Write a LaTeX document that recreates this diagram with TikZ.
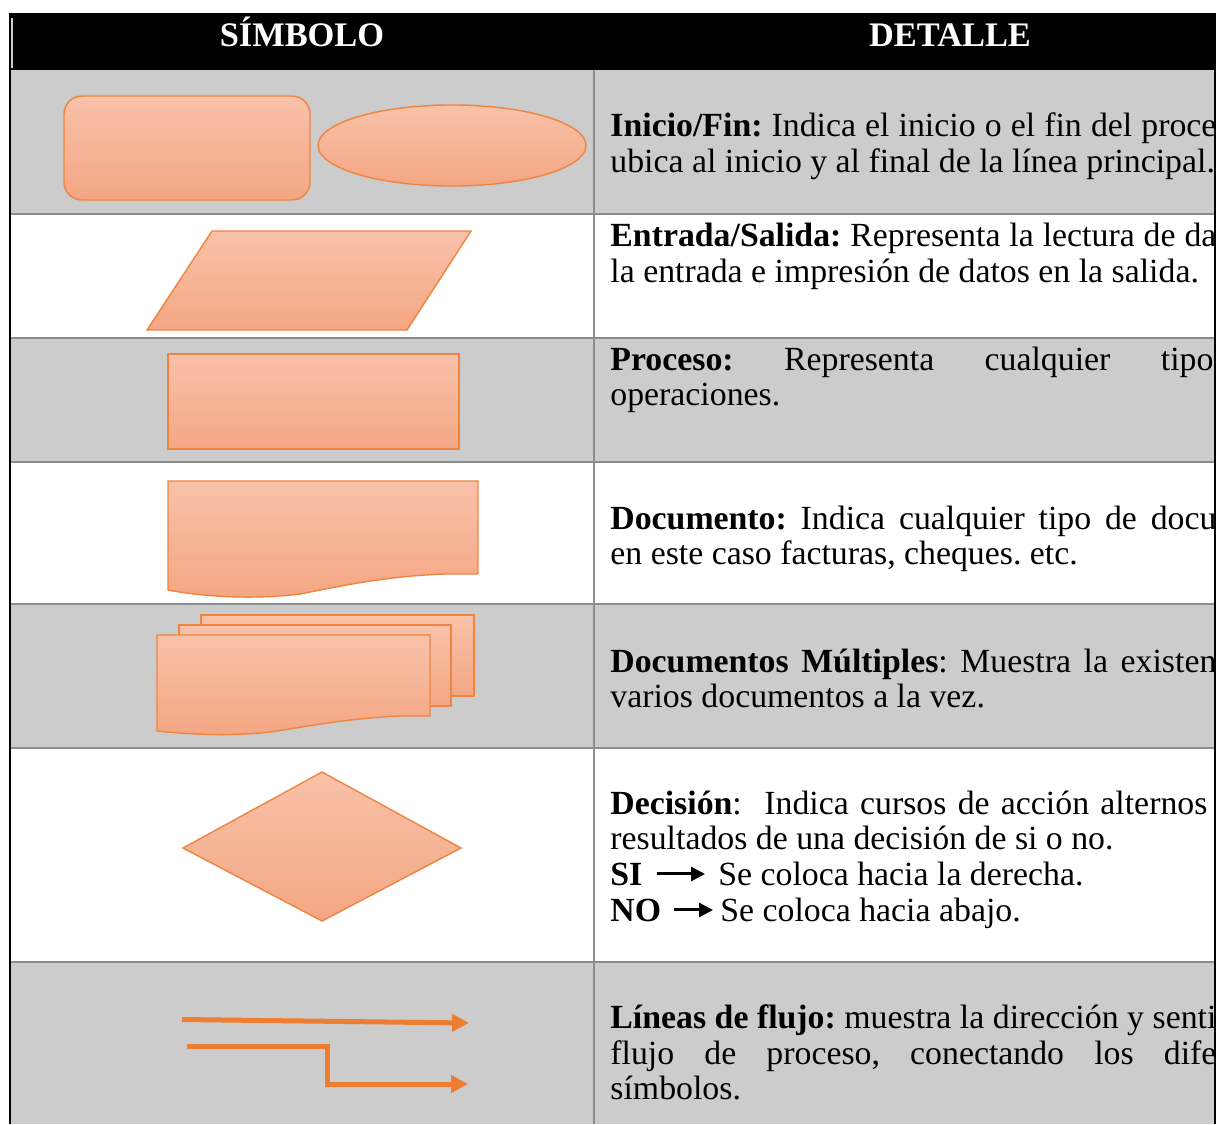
\documentclass[tikz,border=0pt]{standalone}
\usepackage{fontspec}
\setmainfont{Liberation Serif}
\usetikzlibrary{arrows.meta}

\definecolor{rowgray}{HTML}{CCCCCC}
\definecolor{rulegray}{HTML}{8C8C8C}
\definecolor{symtop}{HTML}{F8C2A9}
\definecolor{symbot}{HTML}{F4A683}
\definecolor{symline}{HTML}{EE8440}
\definecolor{flowline}{HTML}{ED7D31}

\tikzset{
    sym/.style={draw=symline, line width=0.7pt, top color=symtop, bottom color=symbot},
    detail/.style={anchor=base west, inner sep=0pt, font=\fontsize{16.9}{18}\selectfont\frenchspacing},
    head/.style={anchor=base, inner sep=0pt, text=white, font=\fontsize{17.2}{18}\selectfont\bfseries},
    flow/.style={draw=flowline, line width=2.5pt, -{Triangle[length=8.5pt,width=8.5pt]}},
    textarrow/.style={line width=1.5pt, -{Triangle[length=7pt,width=7pt]}}
}

\begin{document}
\begin{tikzpicture}[x=0.5pt,y=-0.5pt]
    \useasboundingbox (0,0) rectangle (1218,1124);

    % rows
    \fill[black] (10,13) rectangle (1215,70);
    \fill[rowgray] (10,70) rectangle (1215,214);
    \fill[rowgray] (10,338) rectangle (1215,462);
    \fill[rowgray] (10,604) rectangle (1215,748);
    \fill[rowgray] (10,962) rectangle (1215,1124);
    \foreach \y in {214,338,462,604,748,962}
        \draw[rulegray, line width=0.8pt] (10,\y) -- (1215,\y);
    \draw[rulegray, line width=0.8pt] (594,70) -- (594,1124);
    \draw[black, line width=1pt] (10,13) -- (10,1124);
    \draw[black, line width=1pt] (1215,13) -- (1215,1124);
    \draw[white!80!black, line width=0.6pt] (12,18) -- (12,68);

    % header
    \node[head] (simbolo) at (302,46) {SÍMBOLO};
    \node[head] (detalle) at (950,46) {DETALLE};

    % Inicio/Fin
    \draw[sym, rounded corners=9pt] (64,96) rectangle (310,200);
    \draw[sym] (452,145.5) ellipse [x radius=134, y radius=40.5];

    % Entrada/Salida
    \draw[sym] (212,231) -- (471,231) -- (407,330) -- (147,330) -- cycle;

    % Proceso
    \draw[sym] (168,354) rectangle (459,449);

    % Documento
    \draw[sym] (168,481) -- (478,481) -- (478,574) -- (445,574)
        .. controls (390,576) and (350,584) .. (300,594)
        .. controls (260,599) and (210,598) .. (168,590) -- cycle;

    % Documentos multiples
    \draw[sym] (201,615) rectangle (474,696);
    \draw[sym] (179,625) rectangle (451,706);
    \draw[sym] (157,635) -- (430,635) -- (430,716) -- (400,716)
        .. controls (350,718) and (310,726) .. (270,732)
        .. controls (235,736) and (195,735) .. (157,731) -- cycle;

    % Decision
    \draw[sym] (322,772) -- (461,848) -- (322,921) -- (183,848) -- cycle;

    % Lineas de flujo
    \coordinate (f1a) at (182,1019.5);
    \coordinate (f1b) at (469,1023);
    \coordinate (f2a) at (187,1046);
    \coordinate (f2m) at (327,1046);
    \coordinate (f2b) at (468,1084);
    \draw[flow] (f1a) -- (f1b);
    \draw[flow] (f2a) -- (f2m) |- (f2b);

    % detail texts
    \begin{scope}
        \clip (594,70) rectangle (1214,1124);
        \node[detail] (t1a) at (610,136) {\makebox[303pt][s]{\textbf{Inicio/Fin:} Indica el inicio o el fin del proce}};
        \node[detail] (t1b) at (610,172) {ubica al inicio y al final de la línea principal.};
        \node[detail] (t2a) at (610,246) {\makebox[303pt][s]{\textbf{Entrada/Salida:} Representa la lectura de da}};
        \node[detail] (t2b) at (610,282) {la entrada e impresión de datos en la salida.};
        \node[detail] (t3a) at (610,370) {\makebox[301.5pt]{\textbf{Proceso:}\hfill Representa\hfill cualquier\hfill tipo}};
        \node[detail] (t3b) at (610,405) {operaciones.};
        \node[detail] (t4a) at (610,529) {\makebox[303pt][s]{\textbf{Documento:} Indica cualquier tipo de docu}};
        \node[detail] (t4b) at (610,564) {en este caso facturas, cheques. etc.};
        \node[detail] (t5a) at (610,672) {\makebox[303pt][s]{\textbf{Documentos Múltiples}: Muestra la existen}};
        \node[detail] (t5b) at (610,707) {varios documentos a la vez.};
        \node[detail] (t6a) at (610,814) {\makebox[298.5pt][s]{\textbf{Decisión}:\ \ Indica cursos de acción alternos}};
        \node[detail] (t6b) at (610,849) {resultados de una decisión de si o no.};
        \node[detail] (si) at (610,885) {\textbf{SI}};
        \node[detail] (sitxt) at (718,885) {Se coloca hacia la derecha.};
        \node[detail] (no) at (610,921) {\textbf{NO}};
        \node[detail] (notxt) at (720,921) {Se coloca hacia abajo.};
        \node[detail] (t7a) at (610,1028) {\makebox[303pt][s]{\textbf{Líneas de flujo:} muestra la dirección y senti}};
        \node[detail] (t7b) at (610,1064) {\makebox[303pt][s]{flujo de proceso, conectando los dife}};
        \node[detail] (t7c) at (610,1099) {símbolos.};
    \end{scope}
    \draw[textarrow, shorten <=7pt, shorten >=6.5pt] (si.east) -- (si.east -| sitxt.west);
    \draw[textarrow, shorten <=6pt, shorten >=3.5pt] (no.east) -- (no.east -| notxt.west);
\end{tikzpicture}
\end{document}
